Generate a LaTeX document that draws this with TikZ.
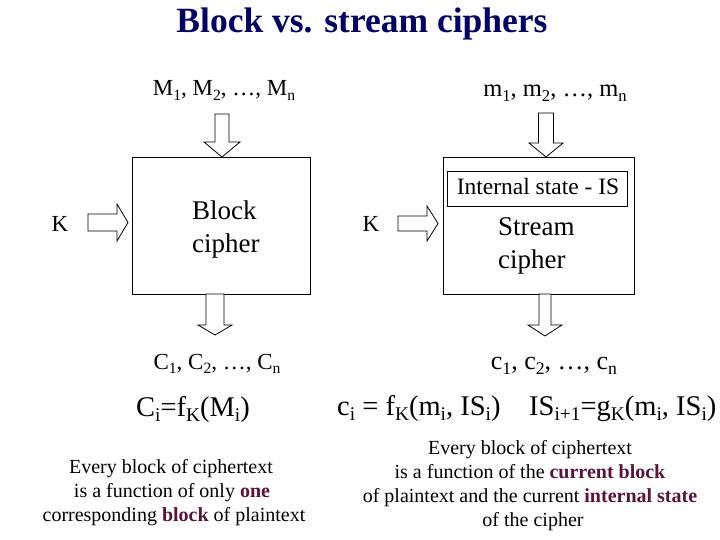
\documentclass[tikz,border=0pt]{standalone}
\usepackage{fontspec}
\setmainfont{Liberation Serif}
\definecolor{titleblue}{RGB}{0,0,102}
\definecolor{emph}{RGB}{90,20,60}
\newcommand{\lo}[1]{\raisebox{-0.42ex}{\scalebox{0.68}{#1}}}
\newcommand{\dnarrow}[7]{% cx, y0, w, y1, h, y2, name
  \draw[blockarrow] (#1-#3,#2) -- (#1+#3,#2) -- (#1+#3,#4) -- (#1+#5,#4) -- (#1,#6) -- (#1-#5,#4) -- (#1-#3,#4) -- cycle;}
\newcommand{\rtarrow}[7]{% x0, cy, w, x1, h, x2
  \draw[blockarrow] (#1,#2-#3) -- (#1,#2+#3) -- (#4,#2+#3) -- (#4,#2+#5) -- (#6,#2) -- (#4,#2-#5) -- (#4,#2-#3) -- cycle;}
\begin{document}
\begin{tikzpicture}[x=1pt,y=-1pt,
  blockarrow/.style={draw=black,fill=white,line width=0.8pt,line join=miter},
  boxstyle/.style={draw=black,line width=0.8pt},
  txt/.style={inner sep=0pt,anchor=base,font=\fontsize{23}{27}\selectfont},
  note/.style={inner sep=0pt,anchor=base},
]
\useasboundingbox (0,0) rectangle (720,540);
% title
\node[note,font=\fontsize{35.5}{40}\bfseries\selectfont,text=titleblue] (title) at (362,33) {Block vs. stream ciphers};
% inputs
\node[txt] (M) at (224,96) {M\lo{1}, M\lo{2}, \dots, M\lo{n}};
\node[txt,font=\fontsize{24.5}{28}\selectfont] (m) at (555,97) {m\lo{1}, m\lo{2}, \dots, m\lo{n}};
% boxes
\draw[boxstyle] (132,157) rectangle (310,294);
\draw[boxstyle] (443,157) rectangle (634,294);
\draw[boxstyle] (447,171) rectangle (627,206);
\node[note,font=\fontsize{23.5}{28}\selectfont] (is) at (538,195) {Internal state - IS};
\node[note,font=\fontsize{27}{32}\selectfont,anchor=base west] (bc1) at (192,220) {Block};
\node[note,font=\fontsize{27}{32}\selectfont,anchor=base west] (bc2) at (192,252) {cipher};
\node[note,font=\fontsize{27}{32}\selectfont,anchor=base west] (sc1) at (498,236) {Stream};
\node[note,font=\fontsize{27}{32}\selectfont,anchor=base west] (sc2) at (498,268) {cipher};
% keys
\node[txt] (K1) at (60,231) {K};
\node[txt] (K2) at (371,231) {K};
% arrows
\dnarrow{222}{114}{7}{142}{18}{157}{a1}
\dnarrow{546}{113}{7.5}{143}{17}{157}{a2}
\dnarrow{215}{294}{9}{325}{17}{335}{a3}
\dnarrow{545}{294}{6}{325}{17}{336}{a4}
\rtarrow{88}{222.5}{8.5}{117}{18.5}{128}{a5}
\rtarrow{398}{223.5}{7.5}{427}{17.5}{438}{a6}
% outputs
\node[txt] (C) at (217,369) {C\lo{1}, C\lo{2}, \dots, C\lo{n}};
\node[txt,font=\fontsize{26}{30}\selectfont] (c) at (554,369) {c\lo{1}, c\lo{2}, \dots, c\lo{n}};
% formulas
\node[note,font=\fontsize{28.5}{32}\selectfont] (f1) at (193,416) {C\lo{i}=f\lo{K}(M\lo{i})};
\node[note,font=\fontsize{28.5}{32}\selectfont,anchor=base west] (f2) at (337,415) {c\lo{i} = f\lo{K}(m\lo{i}, IS\lo{i})};
\node[note,font=\fontsize{28.5}{32}\selectfont,anchor=base west] (f3) at (529,415) {IS\lo{i+1}=g\lo{K}(m\lo{i}, IS\lo{i})};
% notes
\begin{scope}[every node/.style={note,font=\fontsize{20}{24}\selectfont}]
\node (l1) at (171,473) {Every block of ciphertext};
\node (l2) at (172,497) {is a function of only \textcolor{emph}{\textbf{one}}};
\node (l3) at (174,521) {corresponding \textcolor{emph}{\textbf{block}} of plaintext};
\node (r1) at (530,454) {Every block of ciphertext};
\node (r2) at (530,478) {is a function of the \textcolor{emph}{\textbf{current block}}};
\node (r3) at (530,502) {of plaintext and the current \textcolor{emph}{\textbf{internal state}}};
\node (r4) at (533,526) {of the cipher};
\end{scope}
\end{tikzpicture}
\end{document}
